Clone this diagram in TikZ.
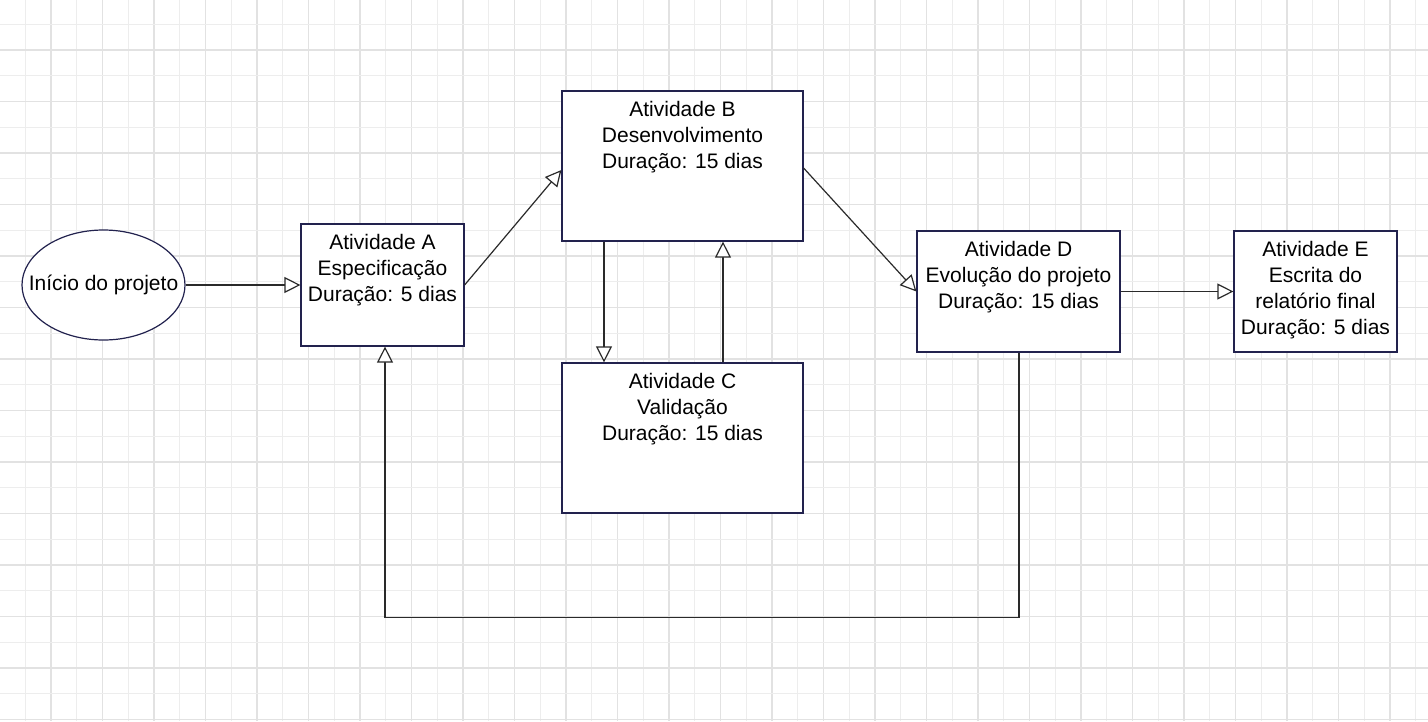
\documentclass[tikz,border=0pt]{standalone}
\usepackage{fontspec}
\setmainfont{Liberation Sans}
\usepackage{tikz}
\usetikzlibrary{arrows.meta}
\usetikzlibrary{shapes.geometric}
\usetikzlibrary{positioning}
\definecolor{boxline}{HTML}{22224E}
\definecolor{flowline}{HTML}{2A2A2A}
\definecolor{gridA}{HTML}{E2E2E2}
\definecolor{gridB}{HTML}{EDEDED}

\begin{document}
\begin{tikzpicture}[x=1pt, y=-1pt,
    gridline/.style={line width=1.2pt},
    activity/.style={draw=boxline, fill=white, line width=1.2pt, rectangle, inner sep=0pt},
    caption/.style={anchor=north, align=center, inner sep=0pt, yshift=-10.5pt,
      font=\fontsize{21}{26}\selectfont},
    flow/.style={draw=flowline, line width=1.2pt,
      -{Triangle[length=16pt, width=16pt, fill=white, line width=1.2pt]}}]
    \useasboundingbox [fill=white] (0, 0) rectangle (1428, 721);
    \foreach \k in {0, ..., 56} {
      \pgfmathsetmacro{\gx}{25.75*\k - 0.5}
      \ifodd\k \def\gc{gridB}\else \def\gc{gridA}\fi
      \draw [gridline, \gc] (\gx, 0) -- (\gx, 721);
    }
    \foreach \k in {0, ..., 28} {
      \pgfmathsetmacro{\gy}{25.75*\k - 1.5}
      \ifodd\k \def\gc{gridB}\else \def\gc{gridA}\fi
      \draw [gridline, \gc] (0, \gy) -- (1428, \gy);
    }

    \node [draw=boxline, fill=white, line width=1.2pt, ellipse, inner sep=0pt,
      minimum width=163, minimum height=110] (start) at (103.5, 285) {};
    \node [inner sep=0pt, font=\fontsize{21}{26}\selectfont] (startText) at (start.center) {Início do projeto};

    \node [activity, minimum width=163, minimum height=122] (aBox) at (382.5, 285) {};
    \node [caption] (aText) at (aBox.north) {Atividade A\\Especificação\\Duração: 5 dias};

    \node [activity, minimum width=241, minimum height=150] (bBox) at (682.5, 166) {};
    \node [caption] (bText) at (bBox.north) {Atividade B\\Desenvolvimento\\Duração: 15 dias};

    \node [activity, minimum width=241, minimum height=150] (cBox) at (682.5, 438) {};
    \node [caption] (cText) at (cBox.north) {Atividade C\\Validação\\Duração: 15 dias};

    \node [activity, minimum width=203, minimum height=121] (dBox) at (1018.5, 291.5) {};
    \node [caption] (dText) at (dBox.north) {Atividade D\\Evolução do projeto\\Duração: 15 dias};

    \node [activity, minimum width=163, minimum height=121] (eBox) at (1315.5, 291.5) {};
    \node [caption] (eText) at (eBox.north) {Atividade E\\Escrita do\\relatório final\\Duração: 5 dias};

    \draw [flow] (start) -- (aBox);
    \draw [flow] (aBox.east) -- ([yshift=-4pt]bBox.west);
    \draw [flow] ([yshift=-2pt]bBox.east) -- (dBox.west);
    \draw [flow] ([xshift=-78.5pt]bBox.south) -- ([xshift=-78.5pt]cBox.north);
    \draw [flow] ([xshift=40.5pt]cBox.north) -- ([xshift=40.5pt]bBox.south);
    \draw [flow] (dBox) -- (eBox);
    \draw [flow] ([xshift=0.5pt]dBox.south) -- ++(0, 265) -| ([xshift=2.5pt]aBox.south);
  \end{tikzpicture}
\end{document}
